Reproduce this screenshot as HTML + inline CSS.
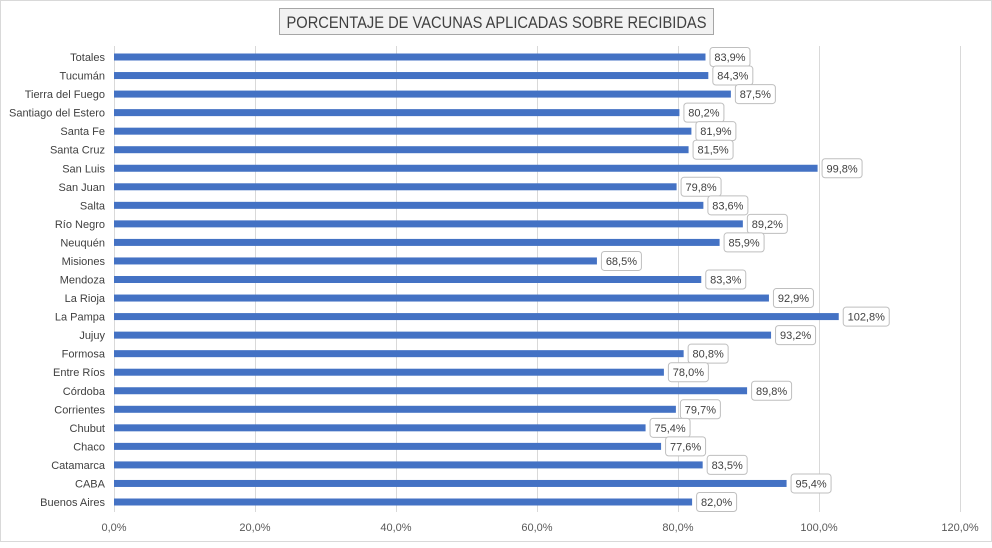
<!DOCTYPE html>
<html><head><meta charset="utf-8"><style>
body{margin:0;background:#fff;font-family:"Liberation Sans",sans-serif;}
svg text{font-family:"Liberation Sans",sans-serif;}
</style></head><body>
<svg width="992" height="543" xmlns="http://www.w3.org/2000/svg">
<rect x="0.5" y="0.5" width="991" height="541" fill="#fff" stroke="#d9d9d9"/>
<g>
<rect x="279.5" y="8.5" width="434" height="26" fill="#f2f2f2" stroke="#a6a6a6"/>
<text x="496.5" y="28" text-anchor="middle" font-size="16.5" fill="#404040" textLength="420" lengthAdjust="spacingAndGlyphs">PORCENTAJE DE VACUNAS APLICADAS SOBRE RECIBIDAS</text>
</g>
<g id="grid"></g><g id="bars"></g><g id="labels"></g>
</svg>
<script>
const categories=["Totales","Tucumán","Tierra del Fuego","Santiago del Estero","Santa Fe","Santa Cruz","San Luis","San Juan","Salta","Río Negro","Neuquén","Misiones","Mendoza","La Rioja","La Pampa","Jujuy","Formosa","Entre Ríos","Córdoba","Corrientes","Chubut","Chaco","Catamarca","CABA","Buenos Aires"];
const values=[83.9,84.3,87.5,80.2,81.9,81.5,99.8,79.8,83.6,89.2,85.9,68.5,83.3,92.9,102.8,93.2,80.8,78.0,89.8,79.7,75.4,77.6,83.5,95.4,82.0];
const ticks=[0,20,40,60,80,100,120];
const NS="http://www.w3.org/2000/svg";
const x=v=>114+v*(960-114)/120;
const y0=57,y1=502;
const y=i=>y0+i*(y1-y0)/(categories.length-1);
function mk(t,a,p){const e=document.createElementNS(NS,t);for(const k in a)e.setAttribute(k,a[k]);p.appendChild(e);return e;}
const grid=document.getElementById('grid'),bars=document.getElementById('bars'),labels=document.getElementById('labels');
ticks.forEach(t=>{
 const l=mk('line',{x1:x(t)+0.5,x2:x(t)+0.5,y1:46,y2:512,stroke:'#d9d9d9'},grid);
 
 
 const tx=mk('text',{x:x(t),y:531,'text-anchor':'middle','font-size':'11',fill:'#595959'},grid);
 tx.textContent=t.toFixed(1).replace('.',',')+'%';
 
 
});
categories.forEach((c,i)=>{
 const cy=y(i);
 const ct=mk('text',{x:105,y:cy+4,'text-anchor':'end','font-size':'11',fill:'#404040'},labels);
 ct.textContent=c;
 
 
 const b=mk('rect',{x:x(0),y:cy-3.5,width:x(values[i])-x(0),height:7,fill:'#4472c4'},bars);
 
 
 const txt=values[i].toFixed(1).replace('.',',')+'%';
 const w=txt.length>5?46:40;
 const bx=x(values[i])+4;
 const br=mk('rect',{x:bx+0.5,y:cy-9.5,width:w,height:19,rx:3,fill:'#fff',stroke:'#bfbfbf'},labels);
 
 
 const vt=mk('text',{x:bx+0.5+w/2,y:cy+4,'text-anchor':'middle','font-size':'11',fill:'#404040'},labels);
 vt.textContent=txt;
 
 
});
</script>
</body></html>
